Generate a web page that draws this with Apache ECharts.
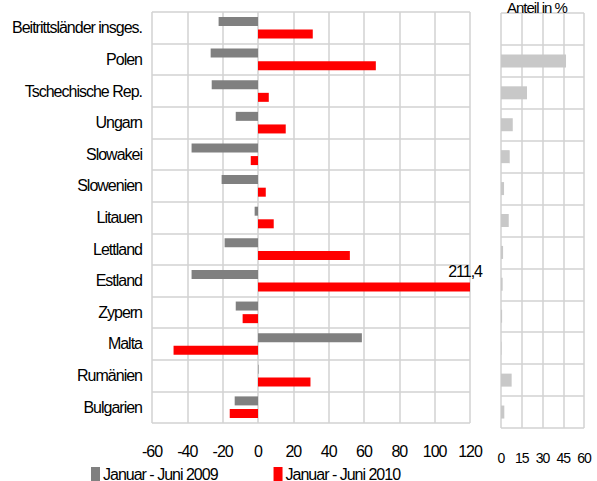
<!DOCTYPE html>
<html>
<head>
<meta charset="utf-8">
<script src="https://cdn.jsdelivr.net/npm/echarts@6/dist/echarts.min.js"></script>
<style>
html,body{margin:0;padding:0;background:#fff;}
#chart{width:597px;height:481px;}
#chart svg text{letter-spacing:-1px;}
</style>
</head>
<body>
<div id="chart"></div>
<script>
const categories = ["Beitrittsländer insges.", "Polen", "Tschechische Rep.", "Ungarn", "Slowakei", "Slowenien", "Litauen", "Lettland", "Estland", "Zypern", "Malta", "Rumänien", "Bulgarien"];
const values2009 = [-22.3, -26.8, -26.2, -12.6, -37.6, -20.6, -1.9, -18.9, -37.6, -12.6, 58.8, 0.3, -13.2];
const values2010 = [31, 66.7, 6.1, 15.7, -4.1, 4.4, 8.9, 52, 211.4, -8.7, -47.8, 29.7, -16];
const shares = ['-', 47, 18.8, 8.5, 6.3, 2.2, 5.6, 1.5, 1.2, 0.8, 0.4, 7.7, 2.4];
const seriesNames = ["Januar - Juni 2009", "Januar - Juni 2010"];
const leftTicks = { min: -60, max: 120, interval: 20 };
const rightTicks = { min: 0, max: 60, interval: 15 };
const shareTitle = "Anteil in %";

const FONT = "'Liberation Sans', Arial, sans-serif";
const gridColor = '#d2d2d2';

const data2010 = values2010.map(v => {
  if (v > leftTicks.max) {
    return {
      value: v,
      label: {
        show: true,
        position: ['100%', 0],
        align: 'right',
        verticalAlign: 'bottom',
        offset: [12, -3],
        formatter: p => String(p.value).replace('.', ','),
        fontFamily: FONT,
        fontSize: 16,
        color: '#000'
      }
    };
  }
  return v;
});

const chart = echarts.init(document.getElementById('chart'), null, { renderer: 'svg' });
chart.setOption({
  animation: false,
  backgroundColor: '#fff',
  textStyle: { fontFamily: FONT },
  title: {
    text: shareTitle,
    left: 507,
    top: 0,
    padding: 0,
    textStyle: { fontFamily: FONT, fontSize: 15, fontWeight: 'normal', color: '#000' }
  },
  legend: {
    left: 91,
    top: 466,
    padding: 0,
    itemWidth: 9,
    itemHeight: 14,
    itemGap: 38,
    icon: 'rect',
    data: seriesNames,
    textStyle: { fontFamily: FONT, fontSize: 16, color: '#000', padding: [0, 0, 0, -2] }
  },
  grid: [
    { left: 152, right: 127, top: 12, bottom: 58, outerBoundsMode: 'none', containLabel: false },
    { left: 501, right: 13, top: 13, bottom: 53, outerBoundsMode: 'none', containLabel: false }
  ],
  xAxis: [
    {
      gridIndex: 0, type: 'value', min: leftTicks.min, max: leftTicks.max, interval: leftTicks.interval,
      axisLine: { show: false }, axisTick: { show: false },
      splitLine: { show: true, lineStyle: { color: gridColor, width: 1.5 } },
      axisLabel: { margin: 20, fontFamily: FONT, fontSize: 16, color: '#000' }
    },
    {
      gridIndex: 1, type: 'value', min: rightTicks.min, max: rightTicks.max, interval: rightTicks.interval,
      axisLine: { show: false }, axisTick: { show: false },
      splitLine: { show: true, lineStyle: { color: gridColor, width: 1.5 } },
      axisLabel: { margin: 23, fontFamily: FONT, fontSize: 14, color: '#000' }
    }
  ],
  yAxis: [
    {
      gridIndex: 0, type: 'category', data: categories, inverse: true,
      axisLine: { show: false }, axisTick: { show: false },
      splitLine: { show: true, interval: 0, lineStyle: { color: gridColor, width: 1.5 } },
      axisLabel: { margin: 10, fontFamily: FONT, fontSize: 16, color: '#000', interval: 0, padding: [0, 0, 4, 0] }
    },
    {
      gridIndex: 1, type: 'category', data: categories, inverse: true,
      axisLine: { show: false }, axisTick: { show: false },
      splitLine: { show: true, interval: 0, lineStyle: { color: gridColor, width: 1.5 } },
      axisLabel: { show: false }
    }
  ],
  series: [
    {
      name: seriesNames[0], type: 'bar', xAxisIndex: 0, yAxisIndex: 0,
      data: values2009, barWidth: 9, barGap: '40%',
      itemStyle: { color: '#808080' }
    },
    {
      name: seriesNames[1], type: 'bar', xAxisIndex: 0, yAxisIndex: 0,
      data: data2010, barWidth: 9, barGap: '40%', clip: true,
      itemStyle: { color: '#ff0000' }
    },
    {
      name: shareTitle, type: 'bar', xAxisIndex: 1, yAxisIndex: 1,
      data: shares, barWidth: 13,
      itemStyle: { color: '#c8c8c8' }
    }
  ]
});
</script>
</body>
</html>
